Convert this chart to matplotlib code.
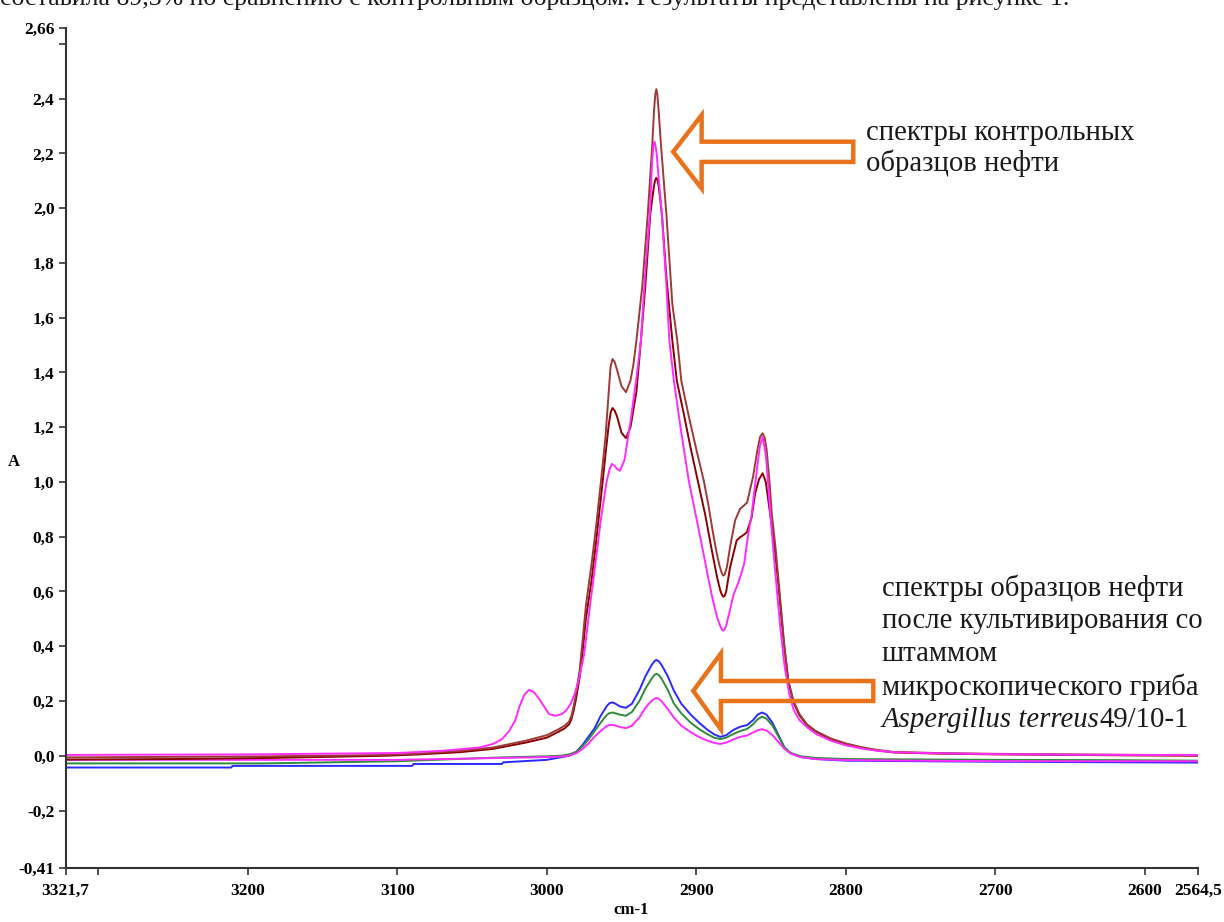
import matplotlib
matplotlib.use("Agg")
import matplotlib.pyplot as plt
from matplotlib.patches import Polygon

# ---------------- data ----------------
ctrl1_x = [3321.7, 3250, 3185, 3107, 3085, 3058, 3036, 3014, 3000, 2992, 2988, 2985, 2983.5, 2982, 2980.5, 2978,
           2976, 2973.8, 2970, 2966.6, 2963, 2960.7, 2958.5, 2957.3, 2956, 2954.7, 2953, 2950, 2947, 2944, 2942,
           2940, 2936, 2932.4, 2929.5, 2928.2, 2927.4, 2926.7, 2926.0, 2925.2, 2923.5, 2920, 2916, 2912.7, 2910,
           2905, 2900, 2895, 2892, 2889, 2886.5, 2884.5, 2883, 2882, 2881, 2879.5, 2877.4, 2874, 2870.7, 2868.5,
           2866, 2862, 2859, 2857.3, 2855.6, 2854.2, 2853, 2851, 2849.5, 2847, 2845, 2843, 2841, 2838.4, 2835,
           2831, 2826, 2820, 2810, 2800, 2790, 2780, 2768, 2740, 2700, 2650, 2600, 2564.5]
ctrl1_y = [-0.006, -0.004, -0.002, 0.003, 0.008, 0.018, 0.030, 0.055, 0.075, 0.097, 0.110, 0.125, 0.145, 0.180,
           0.225, 0.310, 0.420, 0.548, 0.700, 0.855, 1.040, 1.164, 1.330, 1.420, 1.449, 1.440, 1.410, 1.350,
           1.328, 1.370, 1.430, 1.517, 1.720, 1.980, 2.224, 2.360, 2.415, 2.435, 2.415, 2.360, 2.224, 1.980,
           1.650, 1.517, 1.370, 1.240, 1.120, 1.005, 0.920, 0.820, 0.745, 0.695, 0.668, 0.658, 0.662, 0.690,
           0.762, 0.860, 0.902, 0.912, 0.925, 1.020, 1.120, 1.165, 1.178, 1.160, 1.120, 1.000, 0.884, 0.760,
           0.640, 0.520, 0.396, 0.274, 0.200, 0.152, 0.115, 0.090, 0.063, 0.045, 0.032, 0.022, 0.014, 0.010,
           0.007, 0.005, 0.003, 0.002]

ctrl2_x = [3321.7, 3250, 3185, 3107, 3085, 3058, 3036, 3014, 3000, 2992, 2988, 2985, 2983.5, 2982, 2980.5, 2978,
           2976, 2973.8, 2970, 2966.6, 2963, 2960.7, 2958.5, 2957.2, 2956, 2954.7, 2953, 2950, 2947, 2944, 2940,
           2937, 2934, 2930.7, 2928.3, 2927.5, 2926.7, 2925.9, 2925.1, 2923, 2920, 2916, 2913, 2908, 2904, 2899,
           2894, 2890, 2886, 2884, 2883, 2882, 2881, 2880, 2877.4, 2873, 2870.7, 2868.5, 2866.2, 2863, 2860.7,
           2858, 2855.6, 2853.5, 2851.5, 2849.5, 2847, 2845, 2843, 2841, 2838.4, 2835, 2831, 2826, 2820, 2810,
           2800, 2790, 2780, 2768, 2740, 2700, 2650, 2600, 2564.5]
ctrl2_y = [-0.014, -0.012, -0.008, 0.000, 0.005, 0.013, 0.025, 0.048, 0.066, 0.088, 0.100, 0.115, 0.133, 0.165,
           0.205, 0.285, 0.380, 0.500, 0.640, 0.800, 0.980, 1.100, 1.210, 1.255, 1.270, 1.262, 1.240, 1.180,
           1.160, 1.200, 1.330, 1.517, 1.720, 1.980, 2.080, 2.102, 2.111, 2.102, 2.080, 1.980, 1.750, 1.517,
           1.370, 1.240, 1.130, 1.005, 0.880, 0.762, 0.650, 0.605, 0.590, 0.581, 0.584, 0.600, 0.688, 0.786,
           0.798, 0.806, 0.816, 0.870, 0.957, 1.010, 1.032, 1.000, 0.920, 0.840, 0.730, 0.620, 0.500, 0.390,
           0.270, 0.195, 0.148, 0.112, 0.088, 0.060, 0.043, 0.030, 0.020, 0.012, 0.008, 0.005, 0.003, 0.001,
           0.000]

ctrl3_x = [3321.7, 3200, 3100, 3070, 3045, 3036, 3030, 3025, 3021, 3018.4, 3015, 3011.8, 3008.5, 3005, 3001.5,
           2998.4, 2994, 2990, 2987, 2984, 2981, 2978, 2975, 2971, 2967, 2964, 2960, 2958, 2956.5, 2954.5, 2953,
           2951, 2948, 2944, 2940, 2937, 2934, 2931, 2929.5, 2928.7, 2928, 2927.3, 2926.5, 2925, 2923, 2920,
           2918, 2915, 2910, 2905, 2900, 2896, 2892, 2889, 2886, 2884, 2883, 2882, 2881, 2880, 2878, 2875, 2872,
           2870.7, 2868, 2865.5, 2863, 2860, 2857.5, 2855.6, 2853.5, 2851.5, 2850, 2847, 2844, 2841, 2838, 2835,
           2831, 2825, 2820, 2810, 2800, 2790, 2780, 2768, 2740, 2700, 2650, 2600, 2564.5]
ctrl3_y = [0.003, 0.005, 0.010, 0.018, 0.030, 0.043, 0.060, 0.091, 0.130, 0.177, 0.222, 0.241, 0.232, 0.207,
           0.178, 0.152, 0.146, 0.152, 0.165, 0.190, 0.230, 0.290, 0.370, 0.550, 0.720, 0.855, 1.000, 1.045,
           1.066, 1.058, 1.048, 1.041, 1.080, 1.220, 1.380, 1.517, 1.780, 1.980, 2.170, 2.225, 2.243, 2.230,
           2.200, 2.100, 1.980, 1.720, 1.517, 1.371, 1.180, 1.005, 0.870, 0.762, 0.650, 0.570, 0.505, 0.475,
           0.463, 0.457, 0.462, 0.475, 0.520, 0.590, 0.630, 0.652, 0.700, 0.800, 0.880, 1.020, 1.130, 1.164,
           1.100, 0.960, 0.850, 0.660, 0.480, 0.330, 0.230, 0.170, 0.130, 0.100, 0.080, 0.055, 0.038, 0.027,
           0.019, 0.013, 0.009, 0.006, 0.004, 0.003, 0.003]

blue_x = [3321.7, 3211, 3210, 3090, 3089, 3030, 3029, 3000, 2990, 2985, 2980, 2976, 2972, 2968, 2964, 2960,
          2958, 2956, 2954, 2951, 2947, 2943, 2938, 2934, 2930, 2928, 2926.7, 2925, 2923, 2919, 2915, 2910,
          2904, 2898, 2893, 2888, 2884, 2880, 2875, 2870.6, 2866, 2862, 2859, 2856, 2853, 2849, 2845, 2841,
          2837, 2830, 2820, 2800, 2700, 2564.5]
blue_y = [-0.043, -0.043, -0.037, -0.037, -0.030, -0.030, -0.024, -0.015, -0.005, 0.000, 0.015, 0.040, 0.070,
          0.100, 0.145, 0.180, 0.192, 0.195, 0.190, 0.180, 0.175, 0.190, 0.240, 0.290, 0.330, 0.345, 0.350,
          0.345, 0.330, 0.290, 0.238, 0.190, 0.152, 0.120, 0.097, 0.078, 0.069, 0.075, 0.095, 0.106, 0.112,
          0.130, 0.150, 0.158, 0.150, 0.120, 0.075, 0.030, 0.010, -0.005, -0.012, -0.018, -0.022, -0.025]

green_x = [3321.7, 3190, 3100, 3060, 3030, 3000, 2990, 2985, 2980, 2976, 2972, 2968, 2964, 2960, 2958, 2956,
           2954, 2951, 2947, 2943, 2938, 2934, 2930, 2928, 2926.7, 2925, 2923, 2919, 2915, 2910, 2904, 2898,
           2893, 2888, 2884, 2880, 2875, 2870.6, 2866, 2862, 2859, 2856, 2853, 2849, 2845, 2841, 2837, 2830,
           2820, 2800, 2700, 2620, 2564.5]
green_y = [-0.028, -0.028, -0.020, -0.012, -0.006, -0.002, 0.000, 0.005, 0.015, 0.035, 0.060, 0.090, 0.120,
           0.148, 0.156, 0.158, 0.155, 0.150, 0.146, 0.160, 0.200, 0.245, 0.280, 0.295, 0.299, 0.295, 0.280,
           0.240, 0.191, 0.155, 0.122, 0.097, 0.080, 0.066, 0.061, 0.066, 0.080, 0.090, 0.098, 0.115, 0.133,
           0.143, 0.135, 0.110, 0.070, 0.030, 0.010, -0.002, -0.008, -0.012, -0.015, -0.016, -0.018]

pink_x = [3321.7, 3100, 3050, 3000, 2990, 2985, 2980, 2976, 2972, 2968, 2964, 2960, 2958, 2956, 2954, 2951,
          2947, 2943, 2938, 2934, 2930, 2928, 2926.7, 2925, 2923, 2919, 2915, 2910, 2904, 2898, 2893, 2888,
          2884, 2880, 2875, 2870.6, 2866, 2862, 2859, 2856, 2853, 2849, 2845, 2841, 2837, 2830, 2820, 2800,
          2700, 2564.5]
pink_y = [-0.015, -0.015, -0.010, -0.005, -0.003, 0.000, 0.010, 0.025, 0.045, 0.070, 0.090, 0.108, 0.112,
          0.113, 0.110, 0.105, 0.101, 0.110, 0.140, 0.175, 0.200, 0.208, 0.211, 0.208, 0.198, 0.170, 0.140,
          0.110, 0.087, 0.068, 0.056, 0.047, 0.043, 0.048, 0.060, 0.069, 0.074, 0.085, 0.093, 0.097, 0.092,
          0.075, 0.050, 0.025, 0.008, -0.005, -0.012, -0.016, -0.020, -0.020]

x_ticks = [3321.7, 3300, 3200, 3100, 3000, 2900, 2800, 2700, 2600, 2564.5]
x_tick_labels = ["3321,7", "", "3200", "3100", "3000", "2900", "2800", "2700", "2600", "2564,5"]
y_ticks = [-0.41, -0.2, 0.0, 0.2, 0.4, 0.6, 0.8, 1.0, 1.2, 1.4, 1.6, 1.8, 2.0, 2.2, 2.4, 2.6, 2.66]
y_tick_labels = ["-0,41", "-0,2", "0,0", "0,2", "0,4", "0,6", "0,8", "1,0", "1,2", "1,4", "1,6", "1,8",
                 "2,0", "2,2", "2,4", "", "2,66"]

label_ctrl = ["спектры контрольных", "образцов нефти"]
label_treated = ["спектры образцов нефти", "после культивирования со", "штаммом",
                 "микроскопического гриба"]
label_species = "Aspergillus terreus"
label_strain = "49/10-1"
top_text = "составила 89,3% по сравнению с контрольным образцом. Результаты представлены на рисунке 1."

# ---------------- figure ----------------
W, H = 1224, 922
fig = plt.figure(figsize=(W / 100, H / 100), dpi=100)
SERIF = ["Liberation Serif", "DejaVu Serif"]

def fx(px):
    return px / W

def fy(py):
    return 1 - py / H

ax = fig.add_axes([fx(65.6), fy(868), fx(1198) - fx(65.6), fy(27.5) - fy(868)])
ax.set_xlim(3321.7, 2564.5)
ax.set_ylim(-0.41, 2.66)

lw = 1.4
ax.plot(blue_x, blue_y, color="#2a2aff", lw=lw)
ax.plot(green_x, green_y, color="#2e8b3a", lw=lw)
ax.plot(pink_x, pink_y, color="#ff2cff", lw=lw)
ax.plot(ctrl2_x, ctrl2_y, color="#8b0000", lw=lw)
ax.plot(ctrl1_x, ctrl1_y, color="#9c3a36", lw=lw)
ax.plot(ctrl3_x, ctrl3_y, color="#ff2cff", lw=lw)

for s in ("top", "right"):
    ax.spines[s].set_visible(False)
for s in ("left", "bottom"):
    ax.spines[s].set_color("#333333")
    ax.spines[s].set_linewidth(1.5)

ax.set_xticks(x_ticks)
ax.set_xticklabels(x_tick_labels)
ax.set_yticks(y_ticks)
ax.set_yticklabels(y_tick_labels)
ax.tick_params(direction="out", length=5, width=1.2, color="#333333")
ax.tick_params(axis="x", pad=6)
ax.tick_params(axis="y", pad=3)
for lab in ax.get_xticklabels() + ax.get_yticklabels():
    lab.set_fontfamily(SERIF)
    lab.set_fontweight("bold")
    lab.set_fontsize(12.5)

fig.text(fx(14), fy(462), "A", fontfamily=SERIF, fontweight="bold", fontsize=12, ha="center", va="center")
fig.text(fx(631), fy(910), "cm-1", fontfamily=SERIF, fontweight="bold", fontsize=12, ha="center", va="center")

# ---------------- arrows (hollow, orange) ----------------
def hollow_arrow(tip, head_x, head_top, head_bot, shaft_top, shaft_bot, end_x):
    pts = [(tip[0], tip[1]), (head_x, head_top), (head_x, shaft_top), (end_x, shaft_top),
           (end_x, shaft_bot), (head_x, shaft_bot), (head_x, head_bot)]
    poly = Polygon(pts, closed=True, fill=False, edgecolor="#e8731a", lw=3.2, joinstyle="miter",
                   transform=ax.transData, zorder=5, clip_on=False)
    ax.add_patch(poly)

hollow_arrow((2915.4, 2.206), 2896.4, 2.340, 2.072, 2.243, 2.169, 2795.0)
hollow_arrow((2902.0, 0.237), 2883.5, 0.374, 0.096, 0.273, 0.200, 2781.6)

# ---------------- annotation texts ----------------
TS = 20.7
for i, line in enumerate(label_ctrl):
    fig.text(fx(866), fy(133 + 30.5 * i), line, fontfamily=SERIF, fontsize=TS, ha="left", va="center",
             color="#1a1a1a")
for i, line in enumerate(label_treated):
    fig.text(fx(882), fy(588 + 33 * i), line, fontfamily=SERIF, fontsize=TS, ha="left", va="center",
             color="#1a1a1a")
renderer = fig.canvas.get_renderer()
t_sp = fig.text(fx(882), fy(588 + 33 * 4), label_species, fontfamily=SERIF, fontstyle="italic", fontsize=TS,
                ha="left", va="center", color="#1a1a1a")
bb = t_sp.get_window_extent(renderer)
fig.text(bb.x1 / W, fy(588 + 33 * 4), label_strain, fontfamily=SERIF, fontsize=TS, ha="left", va="center",
         color="#1a1a1a")

fig.text(fx(0), fy(5), top_text, fontfamily=SERIF, fontsize=18.5, ha="left", va="baseline", color="#1a1a1a")

fig.savefig("out.png", dpi=100)
